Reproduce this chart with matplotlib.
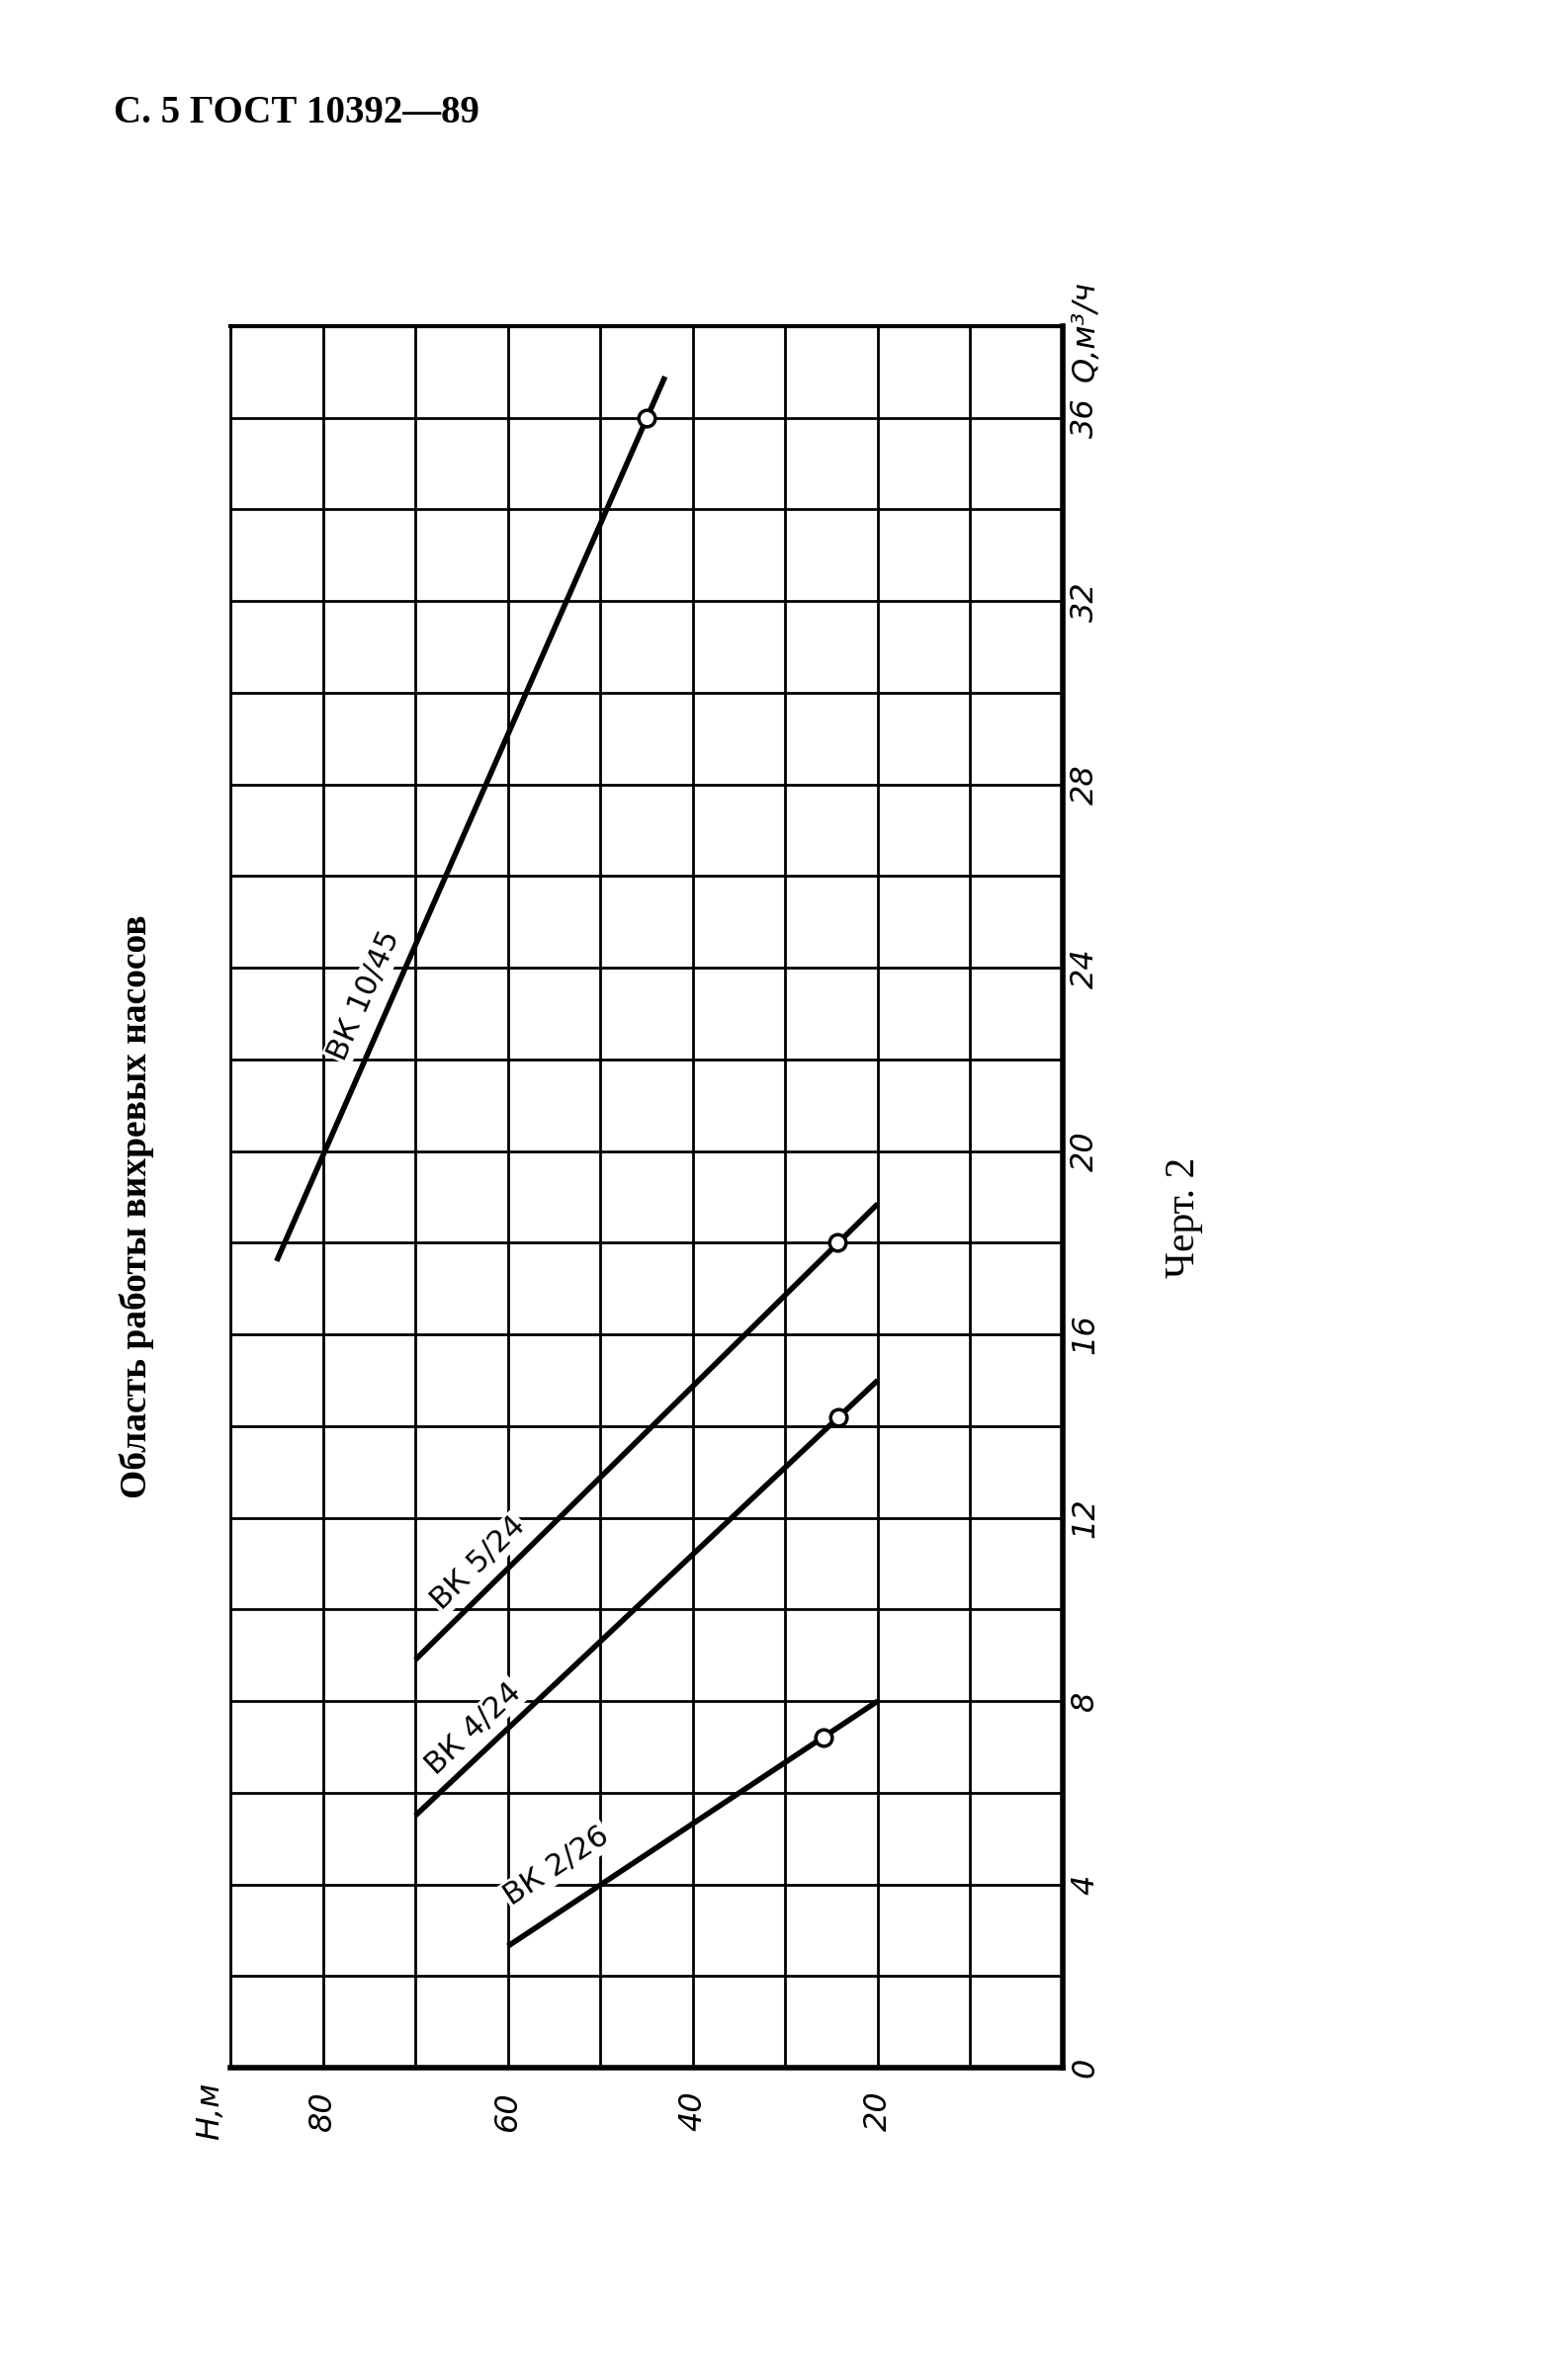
import numpy as np
import matplotlib
matplotlib.use("Agg")
import matplotlib.pyplot as plt

# H, m (напор) and Q, m3/h (подача)
vk10_h = [85, 43]
vk10_q = [17.6, 36.9]
vk10_pt = (45, 36)

vk5_h = [70, 20]
vk5_q = [8.9, 18.85]
vk5_pt = (24.4, 18)

vk4_h = [70, 20]
vk4_q = [5.5, 15.0]
vk4_pt = (24.3, 14.2)

vk2_h = [60, 20]
vk2_q = [2.65, 8.0]
vk2_pt = (25.9, 7.2)

labels = ["ВК 10/45", "ВК 5/24", "ВК 4/24", "ВК 2/26"]
label_pos = [(75.5, 23.4), (63.2, 11.0), (63.7, 7.4), (54.7, 4.4)]

q_ticks = list(range(0, 37, 4))
h_ticks = [20, 40, 60, 80]

hand = "DejaVu Sans"
serif = "Liberation Serif"

W, Hh = 1583, 2408
fig = plt.figure(figsize=(W / 100, Hh / 100), dpi=100)
ax = fig.add_axes([233 / W, 1 - 2092 / Hh, (1075 - 233) / W, (2092 - 330) / Hh])
ax.set_xlim(90, 0)
ax.set_ylim(0, 38)

# grid
ax.set_xticks(np.arange(0, 91, 10))
ax.set_yticks(np.arange(0, 39, 2))
ax.grid(True, color="black", lw=2)
ax.set_axisbelow(True)
ax.tick_params(length=0)
ax.set_xticklabels([])
ax.set_yticklabels([])
for side, lw in [("left", 2), ("top", 3), ("right", 4), ("bottom", 4)]:
    ax.spines[side].set_linewidth(lw)

# tick labels (rotated page)
for q in q_ticks:
    ax.text(1.027, q, str(q), transform=ax.get_yaxis_transform(), rotation=90,
            ha="center", va="center", fontsize=23, family=hand, style="italic")
for h in h_ticks:
    ax.text(h, -0.025, str(h), transform=ax.get_xaxis_transform(), rotation=90,
            ha="center", va="center", fontsize=23, family=hand, style="italic")
ax.text(1.027, 36.8, "Q,м³/ч", transform=ax.get_yaxis_transform(), rotation=90,
        ha="center", va="bottom", fontsize=23, family=hand, style="italic")
ax.text(92.2, -0.025, "H,м", transform=ax.get_xaxis_transform(), rotation=90,
        ha="center", va="center", fontsize=23, family=hand, style="italic", clip_on=False)

# curves
series = [(vk10_h, vk10_q, vk10_pt), (vk5_h, vk5_q, vk5_pt),
          (vk4_h, vk4_q, vk4_pt), (vk2_h, vk2_q, vk2_pt)]
for (hs, qs, pt), lab, pos in zip(series, labels, label_pos):
    ax.plot(hs, qs, color="black", lw=4, solid_capstyle="butt", zorder=3)
    ax.plot(pt[0], pt[1], "o", ms=12, mfc="white", mec="black", mew=2.5, zorder=4)
    p0 = ax.transData.transform((hs[0], qs[0]))
    p1 = ax.transData.transform((hs[1], qs[1]))
    ang = np.degrees(np.arctan2(p1[1] - p0[1], p1[0] - p0[0]))
    ax.text(pos[0], pos[1], lab, rotation=ang, rotation_mode="anchor",
            ha="center", va="center", fontsize=22, family=hand,
            bbox=dict(facecolor="white", edgecolor="none", pad=1), zorder=2)

fig.text(115 / W, 1 - 115 / Hh, "С. 5 ГОСТ 10392—89", ha="left", va="center",
         fontsize=28, family=serif, weight="bold")
fig.text(138 / W, 1 - 1221 / Hh, "Область работы вихревых насосов", rotation=90,
         ha="center", va="center", fontsize=27, family=serif, weight="bold")
fig.text(1198 / W, 1 - 1232 / Hh, "Черт. 2", rotation=90,
         ha="center", va="center", fontsize=30, family=serif)

fig.savefig("out.png", dpi=100, facecolor="white")
